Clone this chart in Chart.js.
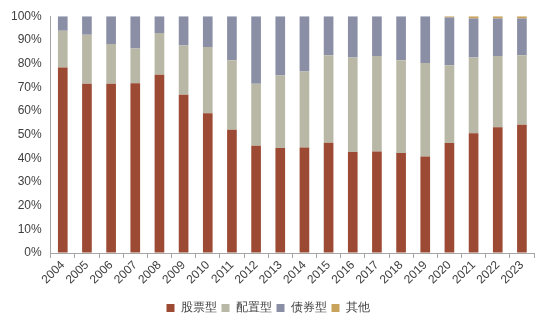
<!DOCTYPE html>
<html>
<head>
<meta charset="utf-8">
<script src="https://cdn.jsdelivr.net/npm/chart.js@4"></script>
<style>
  html, body { margin: 0; padding: 0; background: #fff; }
  #wrap { width: 550px; height: 327px; position: relative; }
</style>
</head>
<body>
<div id="wrap"><canvas id="c"></canvas></div>
<script>
const years = ['2004','2005','2006','2007','2008','2009','2010','2011','2012','2013',
  '2014','2015','2016','2017','2018','2019','2020','2021','2022','2023'];
const stock = [78.3, 71.5, 71.5, 71.7, 75.3, 66.8, 59.0, 52.0, 45.3, 44.3,
  44.6, 46.6, 42.7, 42.9, 42.2, 40.7, 46.5, 50.6, 53.1, 54.2];
const mixed = [15.6, 20.7, 16.8, 14.7, 17.6, 20.8, 28.0, 29.4, 26.2, 30.7,
  32.0, 36.9, 39.9, 40.3, 39.2, 39.5, 32.8, 32.0, 30.1, 29.3];
const bond = [6.1, 7.8, 11.7, 13.6, 7.1, 12.4, 13.0, 18.6, 28.5, 25.0,
  23.4, 16.5, 17.4, 16.8, 18.6, 19.8, 20.1, 16.4, 15.8, 15.5];
const other = [0, 0, 0, 0, 0, 0, 0, 0, 0, 0,
  0, 0, 0, 0, 0, 0, 0.6, 1.0, 1.0, 1.0];
const seriesNames = ['股票型', '配置型', '债券型', '其他'];

const axisColor = '#a6a6a6';
const textColor = '#404040';
const font = { family: "'Liberation Sans', Arial, sans-serif", size: 12 };

const colors = ['#9c4a33', '#b9b8a6', '#8a8fa6', '#c9a25c'];
const values = [stock, mixed, bond, other];

new Chart(document.getElementById('c'), {
  type: 'bar',
  data: {
    labels: years,
    datasets: seriesNames.map((name, i) => ({
      label: name,
      data: values[i],
      backgroundColor: colors[i],
      borderWidth: 0,
      barPercentage: 0.4,
      categoryPercentage: 1.0,
    })),
  },
  options: {
    responsive: true,
    maintainAspectRatio: false,
    animation: false,
    layout: { padding: { top: 12, right: 16, left: 2, bottom: 3 } },
    plugins: {
      legend: {
        position: 'bottom',
        labels: { color: textColor, font: { ...font, size: 12 }, boxWidth: 8, boxHeight: 8, padding: 5 },
      },
      tooltip: { enabled: false },
    },
    scales: {
      x: {
        stacked: true,
        grid: { drawOnChartArea: false, color: axisColor, tickLength: 5, offset: true },
        border: { color: axisColor },
        ticks: { color: textColor, font, minRotation: 45, maxRotation: 45, autoSkip: false, padding: 0 },
        afterFit: s => { s.height = 44; },
      },
      y: {
        stacked: true,
        min: 0,
        max: 100,
        grid: { drawOnChartArea: false, drawTicks: false },
        border: { color: axisColor },
        ticks: { stepSize: 10, color: textColor, font, padding: 9, callback: v => v + '%' },
      },
    },
  },
});
</script>
</body>
</html>
